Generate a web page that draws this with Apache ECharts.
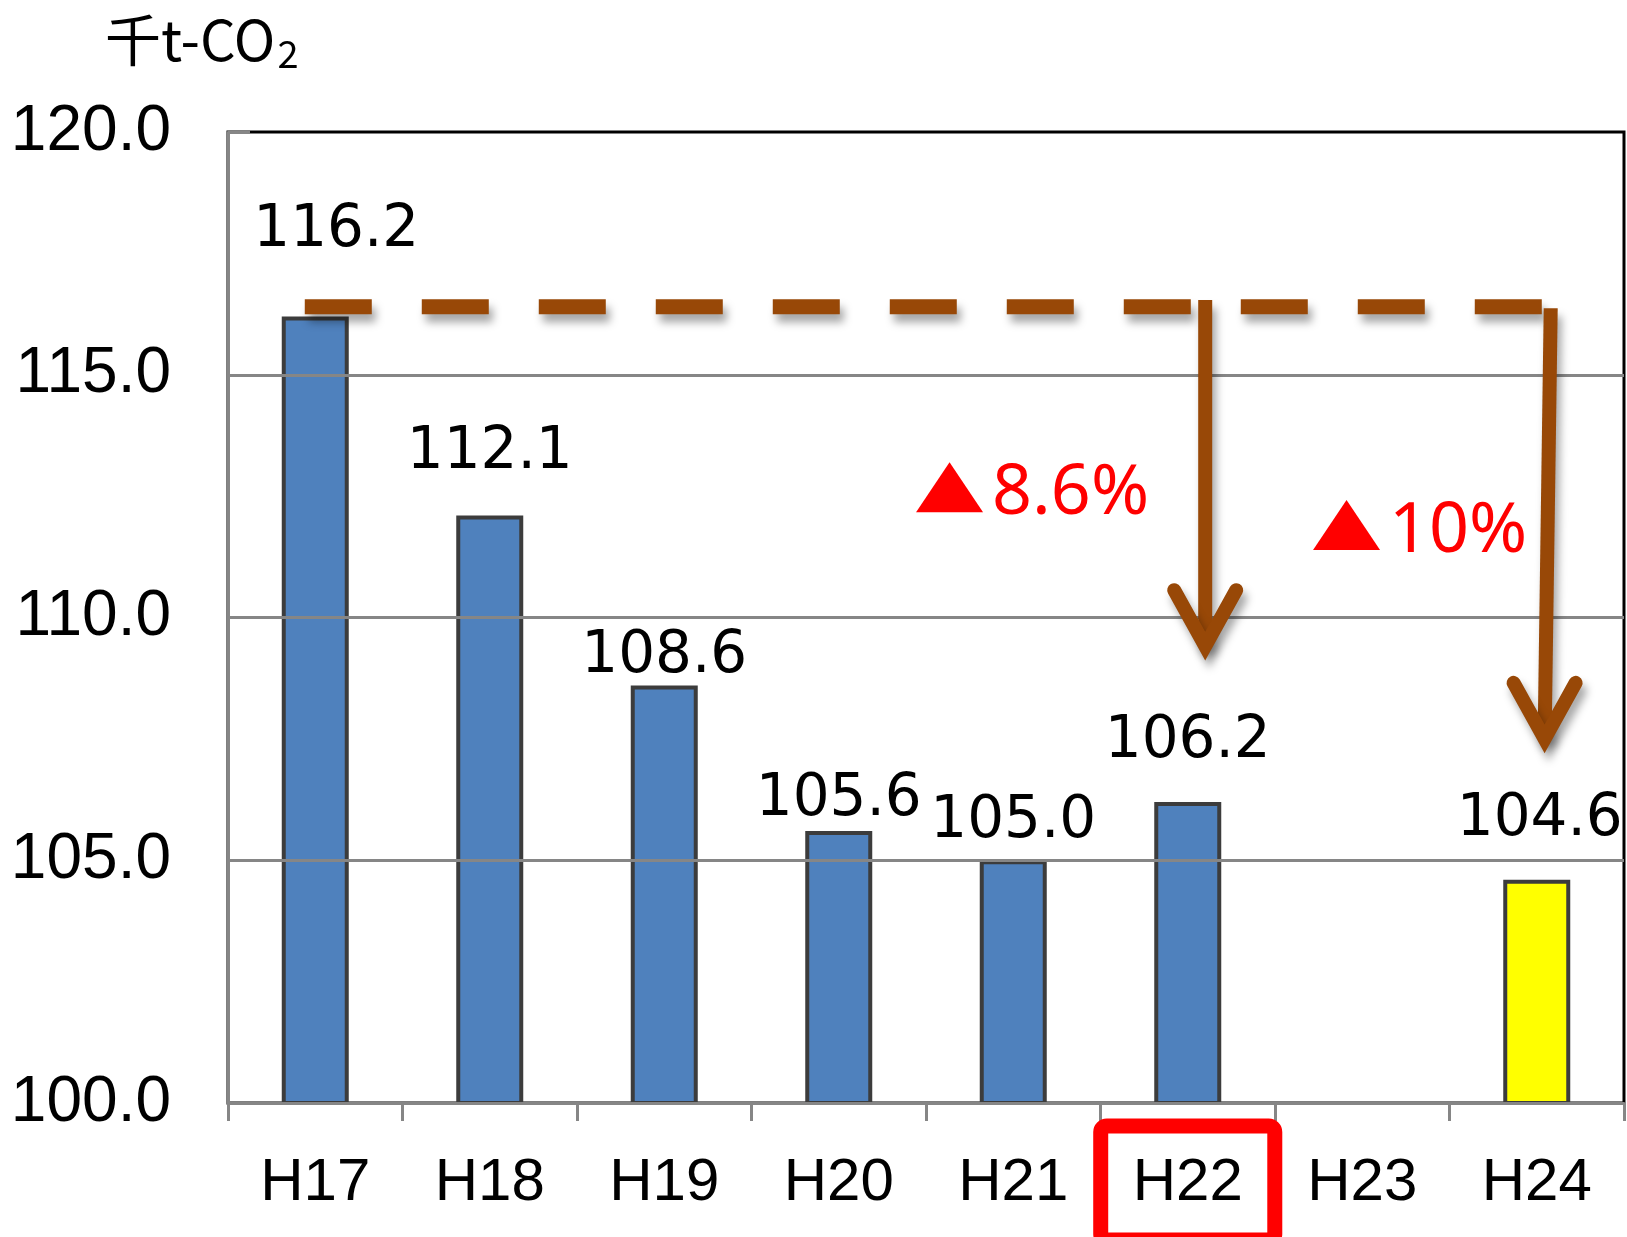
<!DOCTYPE html>
<html><head><meta charset="utf-8">
<script src="https://cdn.jsdelivr.net/npm/echarts@6/dist/echarts.min.js"></script>
<style>html,body{margin:0;padding:0;background:#fff}#c{width:1627px;height:1237px}</style>
</head><body><div id="c"></div>
<script>
// ---- data ----
const categories = ['H17', 'H18', 'H19', 'H20', 'H21', 'H22', 'H23', 'H24'];
const emissions = [116.2, 112.1, 108.6, 105.6, 105.0, 106.2, null, 104.6];
const highlightCategory = 'H22';
const targetCategory = 'H24';
const yMin = 100, yMax = 120, yStep = 5;
const unitText = '千t-CO';
const unitSub = '2';
// reference (H17 level) dashed line: [xStart, level, xEnd] in category units
const refLine = [0.44, 116.4, 7.58];
// arrows: [xTop, yTop, xTip, yTip]
const arrows = [[5.6, 116.54, 5.6, 109.41], [7.58, 116.37, 7.545, 107.5]];
// reduction labels: [x, y] of the triangle's lower-left corner, text
const pctPos = [[3.943, 112.17], [6.218, 111.39]];
const pctText = ['8.6%', '10%'];

// ---- styling (not data) ----
const labelNudges = [[21, -52], [0, -29], [0, 5], [0, 3], [0, -4], [0, -26], [0, 0], [3, -26]];
const BROWN = '#984807';
const GRAY = '#868686';
const SHADOW = { shadowBlur: 8, shadowColor: 'rgba(0,0,0,0.35)', shadowOffsetX: 4, shadowOffsetY: 8 };

const barData = emissions.map((v, i) => v == null ? '-' : {
  value: v,
  itemStyle: { color: categories[i] === targetCategory ? '#FFFF00' : '#4F81BD' },
  label: { offset: labelNudges[i] }
});

const catData = categories.map(c => c === highlightCategory ? {
  value: c,
  textStyle: {
    borderColor: '#FF0000', borderWidth: 15, borderRadius: 6, padding: [27, 32, 27, 32],
    verticalAlign: 'middle', align: 'center', lineHeight: 60,
    fontSize: 60, fontFamily: '"Liberation Sans"', color: '#000'
  }
} : c);

const chart = echarts.init(document.getElementById('c'), null, { renderer: 'canvas' });
chart.setOption({
  animation: false,
  backgroundColor: '#fff',
  title: {
    left: 100, top: 2,
    text: '{a|' + unitText + '}{b|' + unitSub + '}',
    textStyle: {
      fontWeight: 'normal',
      rich: {
        a: { fontSize: 56, fontWeight: 'normal', fontFamily: '"Noto Sans CJK JP"', color: '#000', lineHeight: 66 },
        b: { fontSize: 38, fontWeight: 'normal', fontFamily: '"Noto Sans CJK JP"', color: '#000', padding: [28, 0, 0, 2] }
      }
    }
  },
  grid: {
    left: 228, top: 132, right: 3, bottom: 134,
    outerBoundsMode: 'none', containLabel: false,
    show: true, borderColor: '#000', borderWidth: 3, backgroundColor: 'transparent'
  },
  xAxis: [{
    type: 'category', data: catData, boundaryGap: true, z: 3,
    axisLine: { lineStyle: { color: GRAY, width: 3 } },
    axisTick: { show: true, length: 18, lineStyle: { color: GRAY, width: 3 } },
    axisLabel: {
      margin: 80, verticalAlign: 'middle', lineHeight: 60, interval: 0,
      fontSize: 60, fontFamily: '"Liberation Sans"', color: '#000'
    },
    splitLine: { show: false }
  }, {
    type: 'value', min: 0, max: 8, show: false
  }],
  yAxis: {
    type: 'value', min: yMin, max: yMax, interval: yStep, z: 3,
    axisLine: { show: true, lineStyle: { color: GRAY, width: 3 } },
    axisTick: { show: true, inside: true, length: 22, lineStyle: { color: GRAY, width: 3 } },
    axisLabel: {
      margin: 57, fontSize: 64, fontFamily: '"Liberation Sans"', color: '#000',
      formatter: v => v.toFixed(1)
    },
    splitLine: { show: true, showMaxLine: false, lineStyle: { color: GRAY, width: 3 } }
  },
  series: [{
    type: 'bar', data: barData, barWidth: 67, xAxisIndex: 0,
    itemStyle: { borderColor: '#3c3c3c', borderWidth: 4 },
    label: {
      show: true, position: 'top', distance: 5,
      fontSize: 58, fontFamily: '"DejaVu Sans"', color: '#000', lineHeight: 58,
      formatter: p => Number(p.value).toFixed(1)
    }
  }, {
    type: 'custom', xAxisIndex: 1, yAxisIndex: 0, z: 5, clip: false, silent: true,
    data: [refLine],
    renderItem: (params, api) => {
      const p1 = api.coord([api.value(0), api.value(1)]);
      const p2 = api.coord([api.value(2), api.value(1)]);
      return {
        type: 'line',
        shape: { x1: p1[0], y1: p1[1], x2: p2[0], y2: p2[1] },
        style: Object.assign({ stroke: BROWN, lineWidth: 15, lineDash: [67, 50], lineCap: 'butt' }, SHADOW)
      };
    }
  }, {
    type: 'custom', xAxisIndex: 1, yAxisIndex: 0, z: 5, clip: false, silent: true,
    data: arrows,
    renderItem: (params, api) => {
      const top = api.coord([api.value(0), api.value(1)]);
      const tip = api.coord([api.value(2), api.value(3)]);
      const st = Object.assign({ stroke: BROWN, lineWidth: 14, fill: null }, SHADOW);
      return {
        type: 'group',
        children: [{
          type: 'line',
          shape: { x1: top[0], y1: top[1], x2: tip[0], y2: tip[1] },
          style: Object.assign({ lineCap: 'butt' }, st)
        }, {
          type: 'polyline',
          shape: { points: [[tip[0] - 31, tip[1] - 56], [tip[0], tip[1]], [tip[0] + 31, tip[1] - 56]] },
          style: Object.assign({ lineCap: 'round', lineJoin: 'miter' }, st)
        }]
      };
    }
  }, {
    type: 'custom', xAxisIndex: 1, yAxisIndex: 0, z: 6, clip: false, silent: true,
    data: pctPos,
    renderItem: (params, api) => {
      const p = api.coord([api.value(0), api.value(1)]);
      return {
        type: 'group',
        children: [{
          type: 'polygon',
          shape: { points: [[p[0], p[1]], [p[0] + 67, p[1]], [p[0] + 33.5, p[1] - 50]] },
          style: { fill: '#FF0000' }
        }, {
          type: 'text', x: p[0] + 76, y: p[1] - 18,
          style: {
            text: pctText[params.dataIndex], fill: '#FF0000',
            fontSize: 70, fontFamily: '"Noto Sans"', align: 'left', verticalAlign: 'middle'
          }
        }]
      };
    }
  }]
});
</script>
</body></html>
